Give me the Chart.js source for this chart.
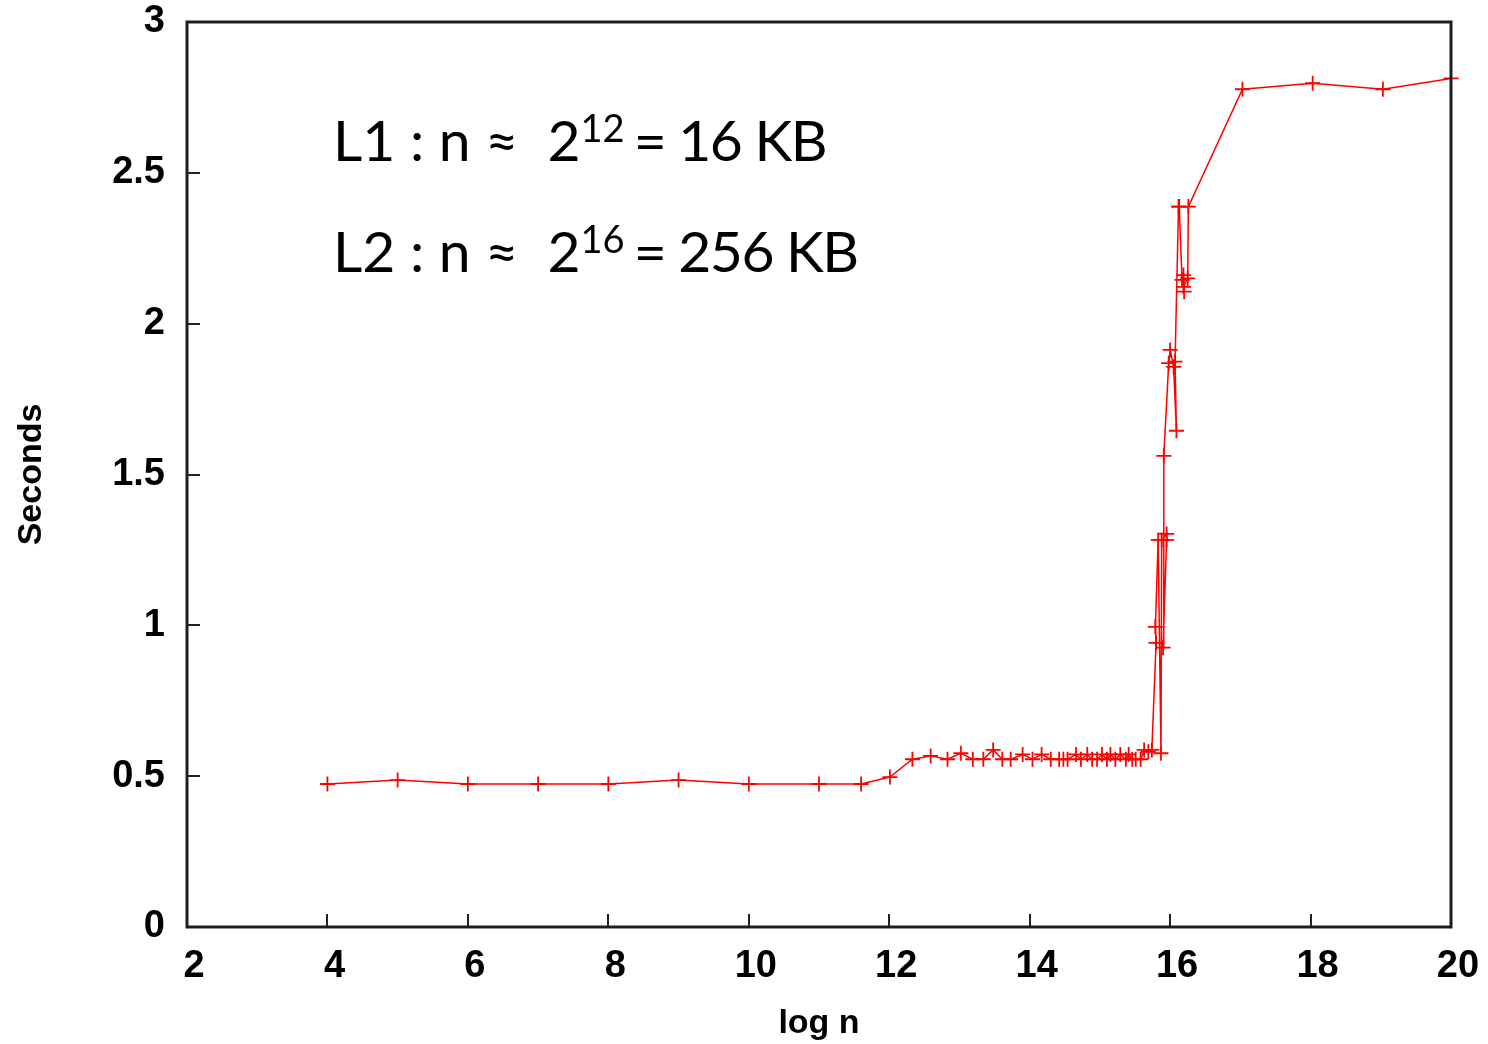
<!DOCTYPE html>
<html>
<head>
<meta charset="utf-8">
<script src="https://cdn.jsdelivr.net/npm/chart.js@4/dist/chart.umd.min.js"></script>
<style>
  html, body { margin: 0; padding: 0; background: #fff; }
  #wrap { width: 1488px; height: 1044px; position: relative; }
</style>
</head>
<body>
<div id="wrap"><canvas id="c" width="1488" height="1044"></canvas></div>
<script>
// ---- data ----
const logN = [
  4, 5, 6, 7, 8, 9, 10, 11, 11.6, 12.01,
  12.33, 12.59, 12.83, 13.02, 13.19, 13.34, 13.48, 13.61, 13.73, 13.9,
  14.04, 14.17, 14.30, 14.42, 14.48, 14.54, 14.66, 14.73, 14.82, 14.89,
  14.96, 15.03, 15.10, 15.15, 15.22, 15.29, 15.37, 15.41, 15.46, 15.51,
  15.58, 15.63, 15.69, 15.74,
  15.80, 15.79, 15.83, 15.87, 15.88, 15.95, 15.95, 15.90, 15.91,
  15.98, 16.00, 16.05, 16.09, 16.07, 16.12,
  16.13, 16.17, 16.19, 16.20, 16.19, 16.25, 16.26,
  17.03, 18.03, 19.03, 20.0
];
const seconds = [
  0.474, 0.487, 0.474, 0.474, 0.474, 0.487, 0.474, 0.474, 0.474, 0.497,
  0.556, 0.567, 0.556, 0.576, 0.556, 0.556, 0.587, 0.556, 0.556, 0.572,
  0.556, 0.572, 0.556, 0.556, 0.556, 0.556, 0.572, 0.556, 0.572, 0.556,
  0.556, 0.572, 0.556, 0.572, 0.556, 0.572, 0.556, 0.572, 0.556, 0.556,
  0.556, 0.587, 0.581, 0.587,
  0.942, 0.995, 1.283, 0.576, 1.283, 1.303, 1.283, 0.926, 1.562,
  1.869, 1.913, 1.857, 1.645, 1.874, 2.388,
  2.388, 2.145, 2.161, 2.106, 2.122, 2.150, 2.388,
  2.777, 2.797, 2.777, 2.813
];
const xTickValues = [2, 4, 6, 8, 10, 12, 14, 16, 18, 20];
const yTickLabels = ['0', '0.5', '1', '1.5', '2', '2.5', '3'];
const xTitle = 'log n';
const yTitle = 'Seconds';
const noteLines = [
  { pre: 'L1 : n \u2248  2', sup: '12', post: ' = 16 KB' },
  { pre: 'L2 : n \u2248  2', sup: '16', post: ' = 256 KB' }
];

const points = logN.map((x, i) => ({ x: x, y: seconds[i] }));

const framePlugin = {
  id: 'frame',
  afterDatasetsDraw(chart) {
    const { ctx, chartArea: a, scales } = chart;
    ctx.save();
    // inward ticks on bottom and left
    ctx.strokeStyle = '#222';
    ctx.lineWidth = 2;
    ctx.beginPath();
    xTickValues.forEach(v => {
      const px = Math.round(scales.x.getPixelForValue(v));
      ctx.moveTo(px, a.bottom);
      ctx.lineTo(px, a.bottom - 13);
    });
    yTickLabels.forEach((t, i) => {
      const py = Math.round(scales.y.getPixelForValue(i * 0.5));
      ctx.moveTo(a.left, py);
      ctx.lineTo(a.left + 13, py);
    });
    ctx.stroke();
    // frame
    ctx.strokeStyle = '#1e1e1e';
    ctx.lineWidth = 3;
    ctx.strokeRect(a.left, a.top, a.right - a.left, a.bottom - a.top);
    // annotation text
    ctx.fillStyle = '#000';
    ctx.textBaseline = 'alphabetic';
    ctx.textAlign = 'left';
    const big = '57px Lato';
    const small = '38px Lato';
    const baselines = [161, 272];
    noteLines.forEach((ln, i) => {
      let x = 333;
      const y = baselines[i];
      ctx.letterSpacing = '0px';
      ctx.font = big;
      ctx.fillText(ln.pre, x, y);
      x += ctx.measureText(ln.pre).width;
      ctx.font = small;
      ctx.fillText(ln.sup, x, y - 19);
      x += ctx.measureText(ln.sup).width - 4;
      ctx.font = big;
      ctx.letterSpacing = '-1.5px';
      ctx.fillText(ln.post, x, y);
    });
    ctx.restore();
  }
};

new Chart(document.getElementById('c'), {
  type: 'line',
  data: {
    datasets: [{
      data: points,
      borderColor: '#ff0000',
      backgroundColor: '#ff0000',
      borderWidth: 1.5,
      pointStyle: 'cross',
      pointRadius: 7.5,
      pointBorderWidth: 1.8,
      pointBorderColor: '#ff0000',
      tension: 0,
      fill: false,
      clip: false
    }]
  },
  options: {
    responsive: false,
    animation: false,
    parsing: false,
    layout: { padding: { top: 22, right: 37, left: 0, bottom: 0 } },
    plugins: { legend: { display: false }, tooltip: { enabled: false } },
    scales: {
      x: {
        type: 'linear',
        min: 2, max: 20,
        afterFit(s) { s.height = 117; s.paddingLeft = 0; s.paddingRight = 0; },
        afterBuildTicks(s) { s.ticks = xTickValues.map(v => ({ value: v })); },
        grid: { display: false, drawTicks: false },
        border: { display: false },
        ticks: {
          padding: 17,
          labelOffset: 7,
          color: '#000',
          font: { family: 'Liberation Sans', size: 38, weight: 'bold' },
          maxRotation: 0,
          callback: v => String(v)
        },
        title: {
          display: true, text: xTitle, color: '#000',
          font: { family: 'Liberation Sans', size: 34, weight: 'bold' },
          padding: { top: 0, bottom: 0 }
        }
      },
      y: {
        type: 'linear',
        min: 0, max: 3,
        afterFit(s) { s.width = 187; s.paddingTop = 0; s.paddingBottom = 0; },
        afterBuildTicks(s) { s.ticks = yTickLabels.map((t, i) => ({ value: i * 0.5 })); },
        grid: { display: false, drawTicks: false },
        border: { display: false },
        ticks: {
          padding: 22,
          color: '#000',
          font: { family: 'Liberation Sans', size: 38, weight: 'bold' },
          callback: (v, i) => yTickLabels[i]
        },
        title: {
          display: true, text: yTitle, color: '#000',
          font: { family: 'Liberation Sans', size: 34, weight: 'bold' },
          padding: { top: 11, bottom: 0 }
        }
      }
    }
  },
  plugins: [framePlugin]
});
</script>
</body>
</html>
